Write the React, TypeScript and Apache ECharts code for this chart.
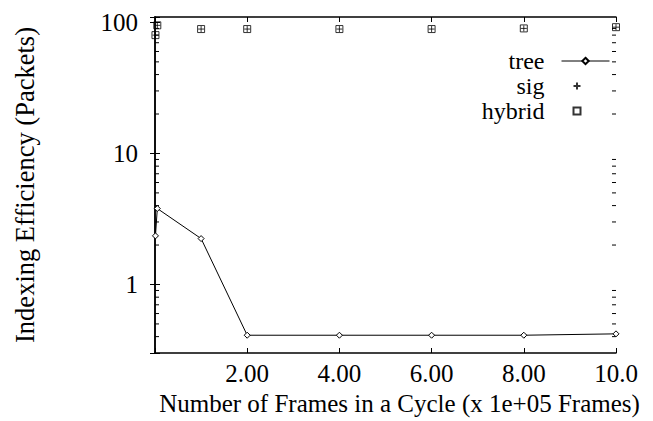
import React, { useEffect, useRef } from "react";
import * as echarts from "echarts";

const xTickLabels: Record<number, string> = { 0: "", 2: "2.00", 4: "4.00", 6: "6.00", 8: "8.00", 10: "10.0" };
const yMajorLabels = [1, 10, 100];
const yMinorTicks = [0.4, 0.5, 0.6, 0.7, 0.8, 0.9, 2, 3, 4, 5, 6, 7, 8, 9, 20, 30, 40, 50, 60, 70, 80, 90];

const treeX = [0.01, 0.05, 1, 2, 4, 6, 8, 10];
const treeY = [2.35, 3.8, 2.24, 0.41, 0.41, 0.41, 0.41, 0.42];
const sigX = [0.01, 0.05, 1, 2, 4, 6, 8, 10];
const sigY = [80, 95, 89, 89, 89, 89, 90, 92];
const hybridX = [0.01, 0.05, 1, 2, 4, 6, 8, 10];
const hybridY = [80, 95, 89, 89, 89, 89, 90, 92];

const FONT = "Liberation Serif";
const PLUS = "path://M0,5L10,5M5,0L5,10";

export default function App() {
  const ref = useRef<HTMLDivElement>(null);
  useEffect(() => {
    if (!ref.current) return;
    const chart = echarts.init(ref.current, undefined, { renderer: "svg" });
    const axisLine = { show: true, lineStyle: { color: "#000", width: 1.5 } };
    const isPow10 = (v: number) => yMajorLabels.some((m) => Math.abs(m - v) < 1e-6 * m);
    const legendText = (pad: number) => ({
      fontFamily: FONT,
      fontSize: 24,
      lineHeight: 20,
      color: "#000",
      padding: [0, pad, 0, 0],
    });
    chart.setOption({
      animation: false,
      backgroundColor: "#fff",
      grid: { left: 155, right: 37, top: 17, bottom: 68, containLabel: false },
      xAxis: [
        {
          type: "value",
          min: 0,
          max: 10,
          interval: 2,
          position: "bottom",
          axisLine,
          axisTick: { inside: true, length: 5, lineStyle: { color: "#000" } },
          splitLine: { show: false },
          axisLabel: {
            formatter: (v: number) => xTickLabels[Math.round(v)] ?? "",
            fontFamily: FONT,
            fontSize: 25,
            color: "#000",
            margin: 8,
          },
          name: "Number of Frames in a Cycle (x 1e+05 Frames)",
          nameLocation: "middle",
          nameGap: 36,
          nameTextStyle: { fontFamily: FONT, fontSize: 25, color: "#000", padding: [0, 0, 0, 28] },
        },
        {
          type: "value",
          min: 0,
          max: 10,
          interval: 2,
          position: "top",
          axisLine,
          axisTick: { inside: true, length: 5, lineStyle: { color: "#000" } },
          splitLine: { show: false },
          axisLabel: { show: false },
        },
      ],
      yAxis: [
        {
          type: "log",
          logBase: 10,
          min: 0.3,
          max: 110,
          position: "left",
          axisLine,
          axisTick: { inside: true, length: 5, lineStyle: { color: "#000" } },
          splitLine: { show: false },
          axisLabel: {
            formatter: (v: number) => (isPow10(v) ? String(Math.round(v)) : ""),
            fontFamily: FONT,
            fontSize: 25,
            color: "#000",
            margin: 17,
          },
          name: "Indexing Efficiency (Packets)",
          nameLocation: "middle",
          nameGap: 117,
          nameTextStyle: { fontFamily: FONT, fontSize: 26.5, color: "#000" },
        },
        {
          type: "log",
          logBase: 10,
          min: 0.3,
          max: 110,
          position: "right",
          axisLine,
          axisTick: { inside: true, length: 5, lineStyle: { color: "#000" } },
          splitLine: { show: false },
          axisLabel: { show: false },
        },
      ],
      legend: [
        {
          data: ["tree"],
          orient: "vertical",
          align: "right",
          right: 38,
          top: 44,
          itemWidth: 48,
          itemHeight: 8,
          lineStyle: { width: 1 },
          textStyle: legendText(12),
          selectedMode: false,
        },
        {
          data: [{ name: "sig", icon: PLUS }],
          orient: "vertical",
          align: "right",
          right: 65,
          top: 69,
          itemWidth: 7,
          itemHeight: 7,
          textStyle: legendText(24),
          selectedMode: false,
        },
        {
          data: [{ name: "hybrid", icon: "rect" }],
          orient: "vertical",
          align: "right",
          right: 65,
          top: 94,
          itemWidth: 7,
          itemHeight: 7,
          textStyle: legendText(24),
          selectedMode: false,
        },
      ],
      series: [
        {
          name: "tree",
          type: "line",
          data: treeX.map((x, i) => [x, treeY[i]]),
          symbol: "diamond",
          symbolSize: 6,
          lineStyle: { color: "#000", width: 1 },
          itemStyle: { color: "#fff", borderColor: "#000", borderWidth: 1 },
        },
        {
          name: "sig",
          type: "scatter",
          data: sigX.map((x, i) => [x, sigY[i]]),
          symbol: PLUS,
          symbolSize: 6,
          itemStyle: { color: "none", borderColor: "#000", borderWidth: 1 },
        },
        {
          name: "hybrid",
          type: "scatter",
          data: hybridX.map((x, i) => [x, hybridY[i]]),
          symbol: "rect",
          symbolSize: 7,
          itemStyle: { color: "none", borderColor: "#000", borderWidth: 1 },
        },
        {
          name: "minorTicks",
          type: "custom",
          silent: true,
          clip: false,
          data: yMinorTicks.map((v) => [0, v]),
          renderItem: (_p: any, api: any) => {
            const v = api.value(1);
            const l = api.coord([0, v]);
            const r = api.coord([10, v]);
            return {
              type: "group",
              children: [
                { type: "line", shape: { x1: l[0], y1: l[1], x2: l[0] + 4, y2: l[1] }, style: { stroke: "#000", lineWidth: 1 } },
                { type: "line", shape: { x1: r[0], y1: r[1], x2: r[0] - 4, y2: r[1] }, style: { stroke: "#000", lineWidth: 1 } },
              ],
            };
          },
        },
      ],
    });
    return () => chart.dispose();
  }, []);
  return <div ref={ref} style={{ position: "fixed", left: 0, top: 0, width: 653, height: 421 }} />;
}
